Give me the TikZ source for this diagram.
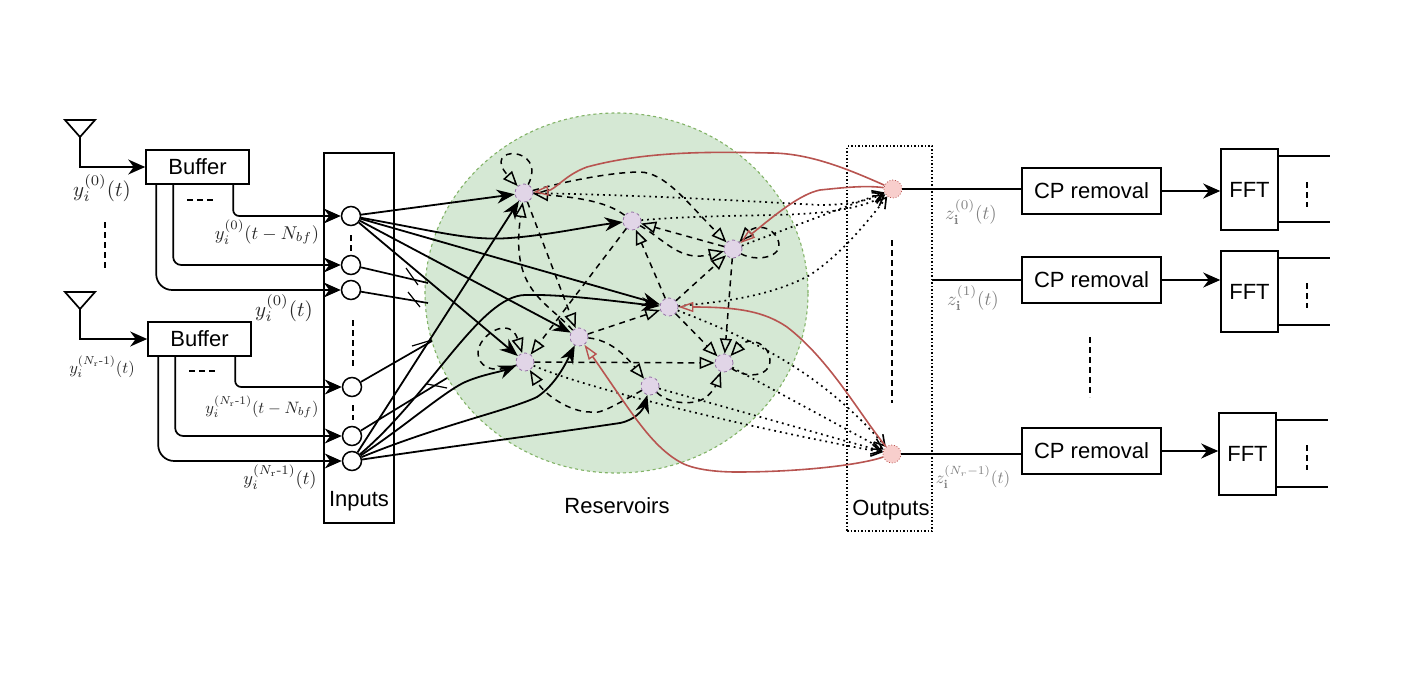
\documentclass[tikz,border=0pt]{standalone}
\usepackage[no-math]{fontspec}
\setmainfont{Liberation Sans}
\usetikzlibrary{arrows.meta,shapes.geometric,calc}
\definecolor{resfill}{HTML}{D5E8D4}
\definecolor{resline}{HTML}{82B366}
\definecolor{nodefill}{HTML}{E1D5E7}
\definecolor{nodeline}{HTML}{9673A6}
\definecolor{outfill}{HTML}{F8CECC}
\definecolor{redline}{HTML}{B85450}
\newcommand\mlab[1]{\scalebox{2.1}{$#1$}}
\newcommand\mlong[1]{\scalebox{1.85}{$#1$}}
\newcommand\mlonger[1]{\scalebox{1.65}{$#1$}}
\newcommand\zlab[1]{\scalebox{1.9}{$#1$}}
\newcommand\zlong[1]{\scalebox{1.7}{$#1$}}
\newcommand\hy{\mathchar"002D\relax}
\tikzset{
  x=1pt,y=-1pt,
  box/.style={draw,line width=1.6pt,inner sep=0pt,font=\fontsize{22}{24}\selectfont},
  inp/.style={circle,draw,line width=1.5pt,fill=white,minimum size=19pt,inner sep=0pt},
  res/.style={circle,draw=nodeline,dashed,fill=nodefill,line width=.8pt,minimum size=18pt,inner sep=0pt},
  outn/.style={circle,draw=redline,dotted,fill=outfill,line width=.8pt,minimum size=18pt,inner sep=0pt},
  lbl/.style={font=\fontsize{22}{24}\selectfont,inner sep=0pt},
  wire/.style={line width=1.7pt},
  solid arrow/.style={wire,-{Stealth[length=17pt,width=15pt]}},
  input edge/.style={line width=1.8pt,-{Stealth[length=18pt,width=14pt]}},
  dash edge/.style={line width=1.5pt,dash pattern=on 6pt off 5pt,-{Triangle[open,length=15pt,width=12pt,line width=1.5pt]}},
  dot edge/.style={line width=1.7pt,dash pattern=on 1.8pt off 4pt,-{Straight Barb[length=10pt,width=12pt,line width=1.6pt]}},
  red edge/.style={draw=redline,line width=1.6pt,-{Triangle[open,length=15pt,width=10pt,line width=1.4pt]}},
  vdots/.style={line width=1.6pt,dash pattern=on 6pt off 4pt},
  tick/.style={line width=1.2pt},
}
\begin{document}
\begin{tikzpicture}
\useasboundingbox (0,0) rectangle (1415,682);
\fill[white] (0,0) rectangle (1415,682);

% reservoir
\node[ellipse,draw=resline,fill=resfill,dashed,line width=1.1pt,minimum width=383pt,minimum height=360pt,inner sep=0pt] (pool) at (616.5,293) {};

% boxes
\node[box,minimum width=70pt,minimum height=370pt] (inputs) at (359,338) {};
\node[draw,dotted,line width=1.5pt,minimum width=85pt,minimum height=385pt,inner sep=0pt] (outputs) at (889.5,338.5) {};
\node[box,minimum width=103pt,minimum height=34pt] (buf1) at (197.5,167) {Buffer};
\node[box,minimum width=103pt,minimum height=34pt] (buf2) at (199.5,339) {Buffer};
\node[box,minimum width=139pt,minimum height=46pt] (cp1) at (1091.5,191) {CP removal};
\node[box,minimum width=139pt,minimum height=46pt] (cp2) at (1091.5,280) {CP removal};
\node[box,minimum width=139pt,minimum height=46pt] (cp3) at (1091.5,451) {CP removal};
\node[box,minimum width=57pt,minimum height=81pt] (fft1) at (1249.5,189.5) {FFT};
\node[box,minimum width=57pt,minimum height=81pt] (fft2) at (1249.5,291.5) {FFT};
\node[box,minimum width=57pt,minimum height=82pt] (fft3) at (1247.5,454) {FFT};

% input nodes
\node[inp] (I1) at (351,216) {};
\node[inp] (I2) at (351,265) {};
\node[inp] (I3) at (351,290) {};
\node[inp] (I4) at (352,387) {};
\node[inp] (I5) at (352,436) {};
\node[inp] (I6) at (352,461) {};

% reservoir nodes
\node[res] (R1) at (524,193) {};
\node[res] (R2) at (632,221) {};
\node[res] (R3) at (733,249) {};
\node[res] (R4) at (669,307) {};
\node[res] (R5) at (579,337) {};
\node[res] (R6) at (525,362) {};
\node[res] (R7) at (724,363) {};
\node[res] (R8) at (650,386) {};
\node[outn] (O1) at (893,189) {};
\node[outn] (O2) at (892,454) {};

% antennas
\coordinate (a1) at (80,137);
\coordinate (a2) at (80,309);
\draw[wire] (65,120) -- (95,120) -- (a1) -- cycle;
\draw[wire] (65,292) -- (95,292) -- (a2) -- cycle;
\draw[solid arrow] (a1) |- (buf1.west);
\draw[solid arrow] (a2) |- (buf2.west);

% buffer outputs
\draw[solid arrow,rounded corners=6pt] ([xshift=88pt]buf1.south west) |- (I1);
\draw[solid arrow,rounded corners=8pt] ([xshift=28pt]buf1.south west) |- (I2);
\draw[solid arrow,rounded corners=16pt] ([xshift=11pt]buf1.south west) |- (I3);
\draw[solid arrow,rounded corners=6pt] ([xshift=88pt]buf2.south west) |- (I4);
\draw[solid arrow,rounded corners=8pt] ([xshift=28pt]buf2.south west) |- (I5);
\draw[solid arrow,rounded corners=16pt] ([xshift=11pt]buf2.south west) |- (I6);

% stubs and ticks
\coordinate (s2) at (428,283);
\coordinate (s3) at (428,303);
\coordinate (s4) at (432,341);
\coordinate (s5) at (447,378);
\draw[wire] (I2) -- (s2);
\draw[wire] (I3) -- (s3);
\draw[wire] (I4) -- (s4);
\draw[wire] (I5) -- (s5);
\draw[tick] (406,268) -- (418,285);
\draw[tick] (408,292) -- (420,307);
\draw[tick] (412,346) -- (432,340);
\draw[tick] (427,384) -- (447,388);

% input edges
\draw[input edge] (I1) -- (R1);
\draw[input edge] (I1) .. controls (440,232) and (470,241) .. (510,238) .. controls (550,235) and (590,226) .. (R2);
\draw[input edge] (I1) -- (R4);
\draw[input edge] (I1) -- (R5);
\draw[input edge] (I1) -- (R6);
\draw[input edge] (I6) -- (R1);
\draw[input edge] (I6) .. controls (430,395) and (480,296) .. (525,295) .. controls (565,294) and (620,302) .. (R4);
\draw[input edge] (I6) .. controls (400,430) and (440,395) .. (463,383) .. controls (480,375) and (500,372) .. (R6);
\draw[input edge] (I6) .. controls (440,425) and (510,410) .. (537,397) .. controls (555,385) and (565,365) .. (R5);
\draw[input edge] (I6) .. controls (440,448) and (560,432) .. (620,423) .. controls (635,420) and (643,410) .. (R8);

% dashed edges
\draw[dash edge] (R1) .. controls (548,145) and (480,145) .. (R1);
\draw[dash edge] (R1) .. controls (570,180) and (615,172) .. (640,172) .. controls (665,173) and (685,200) .. (R3);
\draw[dash edge] (R2) .. controls (605,200) and (570,197) .. (R1);
\draw[dash edge] (R1) -- (R5);
\draw[dash edge] (R5) .. controls (545,300) and (510,290) .. (R1);
\draw[dash edge] (R2) -- (R6);
\draw[dash edge] (R4) -- (R2);
\draw[dash edge] (R4) -- (R3);
\draw[dash edge] (R3) -- (R2);
\draw[dash edge] (R2) .. controls (665,240) and (680,262) .. (R3);
\draw[dash edge] (R3) .. controls (755,262) and (785,258) .. (778,240) .. controls (772,225) and (755,225) .. (R3);
\draw[dash edge] (R3) -- (R7);
\draw[dash edge] (R4) -- (R7);
\draw[dash edge] (R5) -- (R4);
\draw[dash edge] (R6) -- (R7);
\draw[dash edge] (R5) .. controls (610,340) and (625,355) .. (R8);
\draw[dash edge] (R8) .. controls (615,405) and (600,415) .. (590,412) .. controls (570,412) and (545,395) .. (R6);
\draw[dash edge] (R8) .. controls (670,405) and (695,405) .. (705,398) .. controls (712,393) and (716,385) .. (R7);
\draw[dash edge] (R6) .. controls (490,375) and (478,365) .. (478,353) .. controls (478,335) and (510,315) .. (R6);
\draw[dash edge] (R7) .. controls (745,378) and (770,378) .. (770,360) .. controls (770,345) and (750,335) .. (R7);

% dotted edges
\draw[dot edge] (R1) .. controls (650,195) and (780,203) .. (820,205) .. controls (850,205) and (870,200) .. (O1);
\draw[dot edge] (R2) .. controls (700,215) and (770,216) .. (800,214) .. controls (840,212) and (870,205) .. (O1);
\draw[dot edge] (R3) -- (O1);
\draw[dot edge] (R4) .. controls (720,302) and (770,297) .. (810,275) .. controls (840,255) and (865,225) .. (O1);
\draw[dot edge] (R4) .. controls (740,335) and (815,365) .. (O2);
\draw[dot edge] (R7) -- (O2);
\draw[dot edge] (R8) -- (O2);
\draw[dot edge] (R6) .. controls (590,390) and (760,430) .. (O2);

% red edges
\draw[red edge] (O1) .. controls (850,170) and (810,153) .. (770,153) .. controls (720,152) and (650,150) .. (587,167) .. controls (565,175) and (555,190) .. (R1);
\draw[red edge] (O1) .. controls (865,185) and (840,188) .. (820,190) .. controls (800,194) and (775,215) .. (R3);
\draw[red edge] (O2) .. controls (860,415) and (830,360) .. (787,327) .. controls (765,312) and (740,307) .. (R4);
\draw[red edge] (O2) .. controls (860,465) and (800,472) .. (737,472) .. controls (710,472) and (690,468) .. (680,462) .. controls (650,445) and (630,410) .. (R5);

% vertical and horizontal dash marks
\draw[vdots] (105,222) -- (105,270);
\draw[vdots] (351,235) -- (351,252);
\draw[vdots] (353,320) -- (353,368);
\draw[vdots] (353,405) -- (353,420);
\draw[vdots] (892,240) -- (892,403);
\draw[vdots] (1090,337) -- (1090,397);
\draw[vdots] (187,200) -- (216,200);
\draw[vdots] (189,371) -- (218,371);
\draw[vdots] (1307,182) -- (1307,207);
\draw[vdots] (1307,283) -- (1307,308);
\draw[vdots] (1307,445) -- (1307,470);

% outputs chain
\draw[wire] (O1) -- (cp1.west |- O1);
\coordinate (o2) at (932,280);
\draw[wire] (o2) -- (cp2.west);
\draw[wire] (O2) -- (cp3.west |- O2);
\draw[solid arrow] (cp1.east) -- (fft1.west |- cp1.east);
\draw[solid arrow] (cp2.east) -- (fft2.west |- cp2.east);
\draw[solid arrow] (cp3.east) -- (fft3.west |- cp3.east);

% FFT stubs
\coordinate (f1a) at (1330,156);
\coordinate (f1b) at (1330,222);
\coordinate (f2a) at (1330,258);
\coordinate (f2b) at (1330,325);
\coordinate (f3a) at (1328,420);
\coordinate (f3b) at (1328,487);
\draw[wire] (fft1.east |- f1a) -- (f1a);
\draw[wire] (fft1.east |- f1b) -- (f1b);
\draw[wire] (fft2.east |- f2a) -- (f2a);
\draw[wire] (fft2.east |- f2b) -- (f2b);
\draw[wire] (fft3.east |- f3a) -- (f3a);
\draw[wire] (fft3.east |- f3b) -- (f3b);

% labels
\node[lbl] (tinputs) at (359,501) {Inputs};
\node[lbl] (toutputs) at (891,510) {Outputs};
\node[lbl] (tres) at (617,506) {Reservoirs};
\node[inner sep=0pt,text=black!85] (ly1) at (102,188) {\mlab{y_i^{(0)}(t)}};
\node[inner sep=0pt,text=black!85] (ly2) at (267,232) {\mlong{y_i^{(0)}(t-N_{bf})}};
\node[inner sep=0pt,text=black!85] (ly3) at (284,308) {\mlab{y_i^{(0)}(t)}};
\node[inner sep=0pt,text=black!85] (ly4) at (102,367) {\mlonger{y_i^{(N_{\mathrm{r}}\hy 1)}(t)}};
\node[inner sep=0pt,text=black!85] (ly5) at (262,407) {\mlonger{y_i^{(N_{\mathrm{r}}\hy 1)}(t-N_{bf})}};
\node[inner sep=0pt,text=black!85] (ly6) at (280,477) {\mlong{y_i^{(N_{\mathrm{r}}\hy 1)}(t)}};
\node[inner sep=0pt,text=black!50] (lz1) at (971,212) {\zlab{z_{\mathbf{i}}^{(0)}(t)}};
\node[inner sep=0pt,text=black!50] (lz2) at (973,298) {\zlab{z_{\mathbf{i}}^{(1)}(t)}};
\node[inner sep=0pt,text=black!50] (lz3) at (973,477) {\zlong{z_{\mathbf{i}}^{(N_r-1)}(t)}};
\end{tikzpicture}
\end{document}
